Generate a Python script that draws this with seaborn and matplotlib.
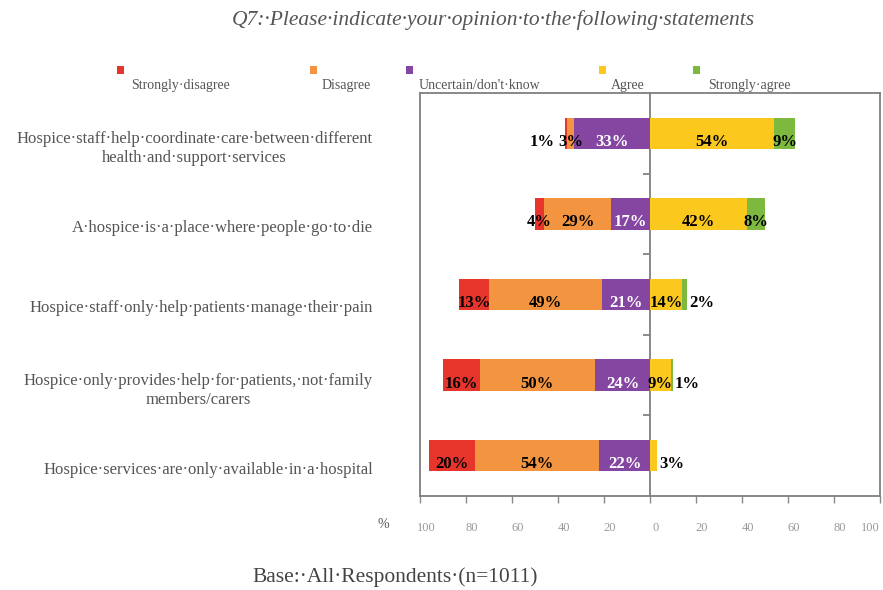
import matplotlib
matplotlib.use("Agg")
import matplotlib.pyplot as plt
import matplotlib.transforms as mtransforms
from matplotlib.patches import Rectangle
import seaborn as sns
import pandas as pd

# Survey statements (top to bottom) and response categories
statements = [
    "Hospice·staff·help·coordinate·care·between·different\nhealth·and·support·services",
    "A·hospice·is·a·place·where·people·go·to·die",
    "Hospice·staff·only·help·patients·manage·their·pain",
    "Hospice·only·provides·help·for·patients,·not·family\nmembers/carers",
    "Hospice·services·are·only·available·in·a·hospital",
]
responses = ["Strongly·disagree", "Disagree", "Uncertain/don't·know", "Agree", "Strongly·agree"]

# Percentages per response
strongly_disagree = [1, 4, 13, 16, 20]
disagree = [3, 29, 49, 50, 54]
uncertain = [33, 17, 21, 24, 22]
agree = [54, 42, 14, 9, 3]
strongly_agree = [9, 8, 2, 1, 0]

colors = ["#E8352B", "#F29440", "#8446A0", "#FBC91D", "#7DB93F"]
label_colors = ["black", "black", "white", "black", "black"]

x_ticks = [-100, -80, -60, -40, -20, 0, 20, 40, 60, 80, 100]
x_tick_labels = ["100", "80", "60", "40", "20", "0", "20", "40", "60", "80", "100"]

title = "Q7:·Please·indicate·your·opinion·to·the·following·statements"
footer = "Base:·All·Respondents·(n=1011)"

W, H = 883, 590
sns.set_theme(style="white")
plt.rcParams["font.family"] = ["Liberation Serif", "DejaVu Serif"]

fig = plt.figure(figsize=(W / 100, H / 100), dpi=100)
ax = fig.add_axes([420 / W, 1 - 496 / H, 460 / W, 403 / H])

df = pd.DataFrame({
    "statement": statements,
    "sd": strongly_disagree, "d": disagree, "u": uncertain,
    "a": agree, "sa": strongly_agree,
})
# Cumulative extents so that overlapping bars form stacked segments
df["neg3"] = -(df["sd"] + df["d"] + df["u"])
df["neg2"] = -(df["d"] + df["u"])
df["neg1"] = -df["u"]
df["pos2"] = df["a"] + df["sa"]
df["pos1"] = df["a"]

bar_w = 0.39
for col, c in [("neg3", colors[0]), ("neg2", colors[1]), ("neg1", colors[2]),
               ("pos2", colors[4]), ("pos1", colors[3])]:
    sns.barplot(data=df, x=col, y="statement", orient="h", color=c,
                saturation=1, width=bar_w, linewidth=0, ax=ax)

# Value labels on each segment
px = 1 / 2.3  # roughly one pixel in data units
for i, row in df.iterrows():
    vals = [row["sd"], row["d"], row["u"], row["a"], row["sa"]]
    starts = [row["neg3"], row["neg2"], row["neg1"], 0, row["a"]]
    neg_outer = next(k for k in range(3) if vals[k] > 0)
    pos_outer = max(k for k in (3, 4) if vals[k] > 0)
    for k, v in enumerate(vals):
        if v <= 0:
            continue
        s = starts[k]
        e = s + v
        y = i + 0.105
        txt = f"{v}%"
        kw = dict(color=label_colors[k], fontsize=12, fontweight="bold", va="center")
        if v <= 3 and k == neg_outer:
            ax.text(s - 10 * px, y, txt, ha="right", **kw)
        elif v <= 3 and k == pos_outer:
            ax.text(e + 2 * px, y, txt, ha="left", **kw)
        else:
            ax.text((s + e) / 2, y, txt, ha="center", **kw)

ax.set_xlim(-100, 100)
ax.set_ylim(4.5, -0.5)
ax.set_xlabel("")
ax.set_ylabel("")

ax.set_xticks(x_ticks)
ax.set_xticklabels(x_tick_labels)
ax.tick_params(axis="x", bottom=True, direction="out", length=5, width=1,
               color="#8a8a8a", labelcolor="#9a9a9a", labelsize=9, pad=14)
ax.tick_params(axis="y", left=False, length=0, labelsize=12,
               labelcolor="#555555", pad=34)
shift_x = mtransforms.ScaledTranslation(6 / 100, 0, fig.dpi_scale_trans)
xlabels = ax.get_xticklabels()
for lab in xlabels[:-1]:
    lab.set_transform(lab.get_transform() + shift_x)
xlabels[-1].set_horizontalalignment("right")
shift_y = mtransforms.ScaledTranslation(0, -12 / 100, fig.dpi_scale_trans)
for lab in ax.get_yticklabels():
    lab.set_multialignment("center")
    lab.set_transform(lab.get_transform() + shift_y)

for sp in ax.spines.values():
    sp.set_visible(True)
    sp.set_color("#7f7f7f")
    sp.set_linewidth(1.3)

# Category axis at zero with ticks between statements
zero_axis = ax.secondary_yaxis(0.5)
zero_axis.set_yticks([0.5, 1.5, 2.5, 3.5])
zero_axis.set_yticklabels([])
zero_axis.tick_params(length=5, direction="in", color="#7f7f7f",
                      labelleft=False, labelright=False)
for sp in zero_axis.spines.values():
    sp.set_color("#7f7f7f")
    sp.set_linewidth(1.3)

fig.text(383 / W, 1 - 525 / H, "%", ha="center", va="center", fontsize=10, color="#555555")

# Legend: small colour squares with the label below-right
sq_x = [120, 313, 409, 602, 696]
txt_x = [131, 322, 419, 611, 708]
sq = 7
for cx, tx, c, name in zip(sq_x, txt_x, colors, responses):
    fig.add_artist(Rectangle(((cx - sq / 2) / W, 1 - (70 + sq / 2) / H), sq / W, sq / H,
                             transform=fig.transFigure, facecolor=c, edgecolor="none"))
    fig.text(tx / W, 1 - 85 / H, name, ha="left", va="center", fontsize=10, color="#555555")

fig.text(493 / W, 1 - 20 / H, title, ha="center", va="center", fontsize=15.5,
         style="italic", color="#555555")
fig.text(395 / W, 1 - 577 / H, footer, ha="center", va="center", fontsize=15.5,
         color="#444444")

fig.savefig("out.png", dpi=100)
